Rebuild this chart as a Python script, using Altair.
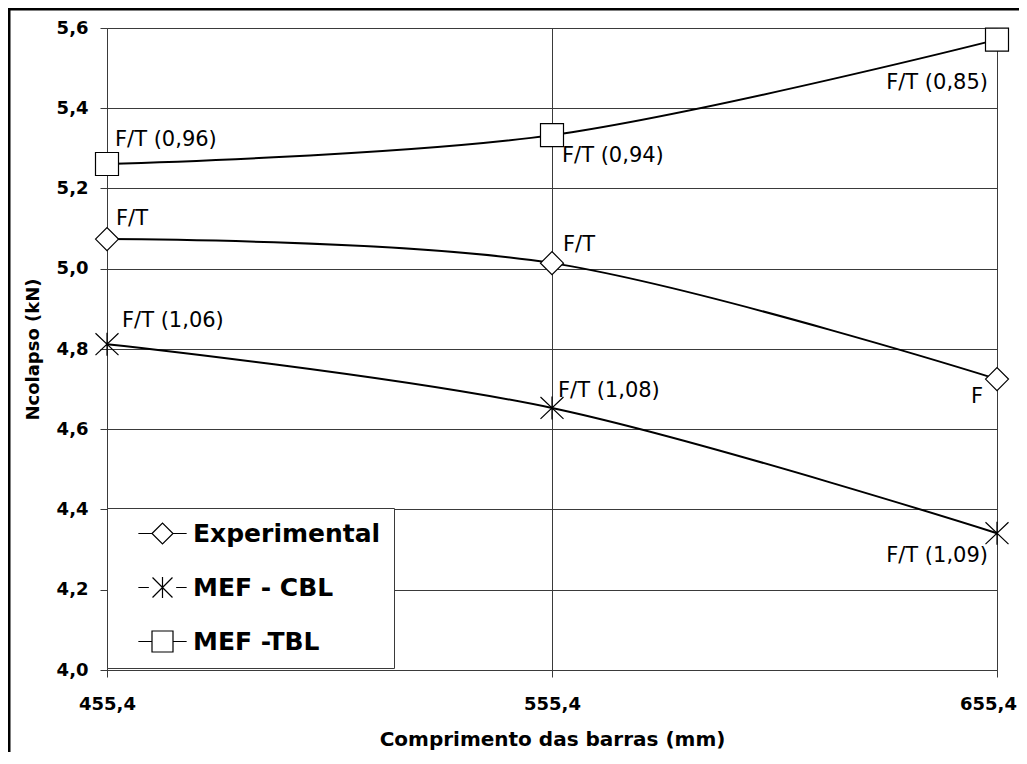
import altair as alt
import pandas as pd

# ---- data ----
comprimento = [455.4, 555.4, 655.4]
series_names = ["Experimental", "MEF - CBL", "MEF -TBL"]
experimental = [5.074, 5.014, 4.725]
mef_cbl = [4.812, 4.653, 4.341]
mef_tbl = [5.261, 5.333, 5.571]
rotulos_exp = ["F/T", "F/T", "F"]
rotulos_cbl = ["F/T (1,06)", "F/T (1,08)", "F/T (1,09)"]
rotulos_tbl = ["F/T (0,96)", "F/T (0,94)", "F/T (0,85)"]
y_ticks = [4.0, 4.2, 4.4, 4.6, 4.8, 5.0, 5.2, 5.4, 5.6]

rows = []
for name, vals, labs in zip(series_names, [experimental, mef_cbl, mef_tbl],
                            [rotulos_exp, rotulos_cbl, rotulos_tbl]):
    for i, (xv, yv, lb) in enumerate(zip(comprimento, vals, labs)):
        rows.append({"serie": name, "x": xv, "y": yv, "rotulo": lb, "i": i})
df = pd.DataFrame(rows)

FONT = "DejaVu Sans"
GRID = "#3a3a3a"

xenc = alt.X("x:Q", scale=alt.Scale(domain=[455.4, 655.4], nice=False, zero=False),
             axis=alt.Axis(values=comprimento,
                           labelExpr="replace(format(datum.value, '.1f'), '.', ',')",
                           title="Comprimento das barras (mm)",
                           grid=True, gridColor=GRID, gridWidth=1,
                           domainColor=GRID, tickColor=GRID, tickSize=7,
                           labelPadding=18, labelFlush=False, labelOverlap=False,
                           labelOffset={"condition": {"test": "datum.value > 600", "value": -9},
                                        "value": 0},
                           labelFont=FONT, labelFontSize=18, labelFontWeight="bold",
                           labelColor="black",
                           titleFont=FONT, titleFontSize=20, titleFontWeight="bold",
                           titleColor="black", titleY=69, titleBaseline="middle"))
yenc = alt.Y("y:Q", scale=alt.Scale(domain=[4.0, 5.6], nice=False, zero=False),
             axis=alt.Axis(values=y_ticks,
                           labelExpr="replace(format(datum.value, '.1f'), '.', ',')",
                           title="Ncolapso (kN)",
                           grid=True, gridColor=GRID, gridWidth=1,
                           domainColor=GRID, tickColor=GRID, tickSize=7,
                           labelPadding=12, labelFlush=False, labelOverlap=False,
                           labelFont=FONT, labelFontSize=18, labelFontWeight="bold",
                           labelColor="black",
                           titleFont=FONT, titleFontSize=18, titleFontWeight="bold",
                           titleColor="black", titleX=-74, titleY=321,
                           titleAngle=270, titleAlign="center", titleBaseline="middle"))

base = alt.Chart(df)

# outer frame of the picture (left and top edges are the visible ones)
one = pd.DataFrame({"a": [0]})
frame_left = alt.Chart(one).mark_rule(stroke="black", strokeWidth=2.5).encode(
    x=alt.value(-97.75), y=alt.value(-20), y2=alt.value(900))
frame_top = alt.Chart(one).mark_rule(stroke="black", strokeWidth=2.5).encode(
    x=alt.value(-99), x2=alt.value(1100), y=alt.value(-18.75))

lines = base.mark_line(interpolate="cardinal", color="black", strokeWidth=2).encode(
    x=xenc, y=yenc, detail="serie:N")

marker_paths = ["diamond", "M-1,-0.95L1,0.95M-1,0.95L1,-0.95M0,-1L0,1", "square"]
markers = base.mark_point(filled=True, fill="white", stroke="black", strokeWidth=1.2,
                          size=529, opacity=1).encode(
    x=xenc, y=yenc,
    shape=alt.Shape("serie:N", scale=alt.Scale(domain=series_names, range=marker_paths),
                    legend=None))

legend_paths = [
    "M-2.3,0L-1,0M1,0L2.3,0M-1,0L0,-1L1,0L0,1Z",
    "M-2.3,0L-1.3,0M1.3,0L2.3,0M-0.95,-0.95L0.95,0.95M-0.95,0.95L0.95,-0.95M0,-1L0,1",
    "M-2.3,0L-1,0M1,0L2.3,0M-1,-1L1,-1L1,1L-1,1Z",
]
legend_layer = base.transform_filter("false").mark_point(
    filled=False, color="black", strokeWidth=1.2, size=441, opacity=1).encode(
    x=xenc, y=yenc,
    shape=alt.Shape("serie2:N", scale=alt.Scale(domain=series_names, range=legend_paths),
                    legend=alt.Legend(title=None, orient="none", legendX=0, legendY=480,
                                      padding=13, rowPadding=27, symbolOffset=30,
                                      labelOffset=18, symbolSize=441,
                                      symbolStrokeColor="black",
                                      symbolStrokeWidth=1.2,
                                      labelFont=FONT, labelFontSize=25,
                                      labelFontWeight="bold", labelColor="black",
                                      labelLimit=500, strokeColor=GRID,
                                      fillColor="white")))

# label placement (style, not data): (series, index) -> dx, dy, align
offsets = {
    ("MEF -TBL", 0): (8, -18, "left"),
    ("MEF -TBL", 1): (10, 27, "left"),
    ("MEF -TBL", 2): (-9, 49, "right"),
    ("Experimental", 0): (9, -14, "left"),
    ("Experimental", 1): (11, -12, "left"),
    ("Experimental", 2): (-14, 24, "right"),
    ("MEF - CBL", 0): (15, -17, "left"),
    ("MEF - CBL", 1): (6, -11, "left"),
    ("MEF - CBL", 2): (-9, 29, "right"),
}
texts = []
for (s, i), (dx, dy, al) in offsets.items():
    texts.append(
        base.transform_filter((alt.datum.serie == s) & (alt.datum.i == i))
        .mark_text(font=FONT, fontSize=21, color="black", align=al,
                   baseline="alphabetic", dx=dx, dy=dy)
        .encode(x=xenc, y=yenc, text="rotulo:N"))

chart = alt.layer(frame_left, frame_top, lines, markers, legend_layer, *texts).resolve_scale(
    shape="independent"
).properties(
    width=890, height=642,
    padding={"left": 99, "top": 20, "right": 22, "bottom": 82},
    autosize=alt.AutoSizeParams(type="none"),
).configure_view(stroke="transparent").configure(background="white")

chart.save("out.html", embed_options={"renderer": "svg", "actions": False})
